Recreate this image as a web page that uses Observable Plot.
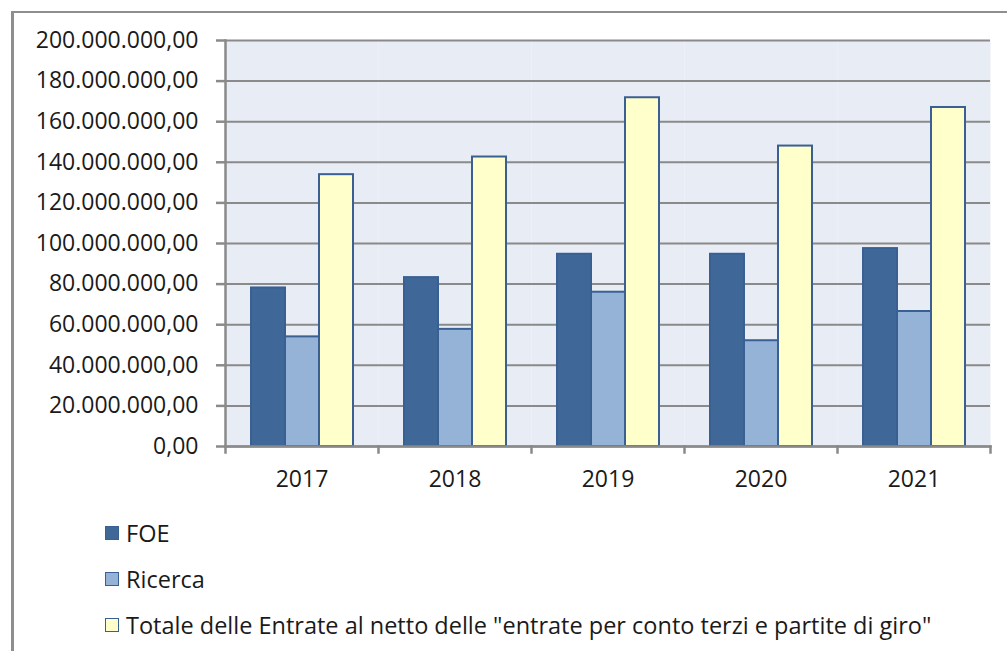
<!DOCTYPE html>
<html>
<head>
<meta charset="utf-8">
<script src="https://cdn.jsdelivr.net/npm/d3@7"></script>
<script src="https://cdn.jsdelivr.net/npm/@observablehq/plot@0.6"></script>
<style>
  html, body { margin: 0; padding: 0; background: #fff; }
  body { width: 1007px; height: 651px; position: relative; overflow: hidden; font-family: "Open Sans", "Liberation Sans", Arial, sans-serif; }
  #border { position: absolute; left: 11px; top: 11px; width: 1020px; height: 700px; border-left: 3px solid #8e8e8e; border-top: 2px solid #8e8e8e; }
  #chart { position: absolute; left: 0; top: 0; }
  #legend { position: absolute; left: 105px; top: 510px; font-size: 23.5px; color: #1a1a1a; }
  .item { display: flex; align-items: center; height: 46px; }
  .sw { width: 12px; height: 12px; border: 1.5px solid #3a6093; margin-right: 7px; box-sizing: content-box; }
</style>
</head>
<body>
<div id="border"></div>
<div id="chart"></div>
<div id="legend"></div>
<script>
const years = ["2017", "2018", "2019", "2020", "2021"];
const series = ["FOE", "Ricerca", "Totale delle Entrate al netto delle \"entrate per conto terzi e partite di giro\""];
const foe = [78.1e6, 83.2e6, 94.7e6, 94.7e6, 97.5e6];
const ricerca = [54.0e6, 57.7e6, 76.0e6, 52.1e6, 66.5e6];
const totale = [133.9e6, 142.6e6, 171.8e6, 148.0e6, 167.0e6];
const yTicks = [0, 20e6, 40e6, 60e6, 80e6, 100e6, 120e6, 140e6, 160e6, 180e6, 200e6];
const colors = ["#3f6899", "#95b3d7", "#ffffcc"];

const values = [foe, ricerca, totale];
const data = [];
years.forEach((yr, i) => series.forEach((s, j) => data.push({year: yr, series: s, value: values[j][i]})));

const it = d3.formatLocale({decimal: ",", thousands: ".", grouping: [3], currency: ["", "€"]});
const fmt = it.format(",.2f");
const axisGray = "#8a8a8a";

const chart = Plot.plot({
  width: 1007,
  height: 500,
  marginLeft: 223,
  marginRight: 16,
  marginTop: 40,
  marginBottom: 54,
  style: {fontFamily: "Open Sans, Liberation Sans, Arial, sans-serif", fontSize: "23px", color: "#1a1a1a", background: "transparent"},
  fx: {domain: years, padding: 0, axis: null},
  x: {domain: series, paddingInner: 0, paddingOuter: 0.74, axis: null},
  y: {domain: [0, 200e6], axis: null},
  color: {domain: series, range: colors},
  marks: [
    Plot.frame({fill: "#e8ecf4", stroke: null}),
    Plot.gridY(yTicks, {stroke: axisGray, strokeOpacity: 1, strokeWidth: 2}),
    Plot.barY(data, {fx: "year", x: "series", y: "value", fill: "series", stroke: "#3a6093", strokeWidth: 2}),
    Plot.frame({anchor: "left", facetAnchor: "left", stroke: axisGray, strokeWidth: 2.5}),
    Plot.frame({anchor: "bottom", stroke: axisGray, strokeWidth: 2.5}),
    Plot.frame({anchor: "left", insetTop: 406, insetBottom: -6, stroke: axisGray, strokeWidth: 2.5}),
    Plot.frame({anchor: "right", facetAnchor: "right", insetTop: 406, insetBottom: -6, stroke: axisGray, strokeWidth: 2.5}),
    Plot.axisY(yTicks, {tickFormat: fmt, tickSize: 9, tickPadding: 18, stroke: axisGray, strokeWidth: 2.5, fontSize: 23, label: null}),
    Plot.axisFx({anchor: "bottom", tickSize: 0, tickPadding: 24, fontSize: 23, label: null})
  ]
});
document.getElementById("chart").appendChild(chart);

const legend = document.getElementById("legend");
series.forEach((s, j) => {
  const row = document.createElement("div");
  row.className = "item";
  const sw = document.createElement("span");
  sw.className = "sw";
  sw.style.background = colors[j];
  const t = document.createElement("span");
  t.textContent = s;
  row.appendChild(sw);
  row.appendChild(t);
  legend.appendChild(row);
});
</script>
</body>
</html>
